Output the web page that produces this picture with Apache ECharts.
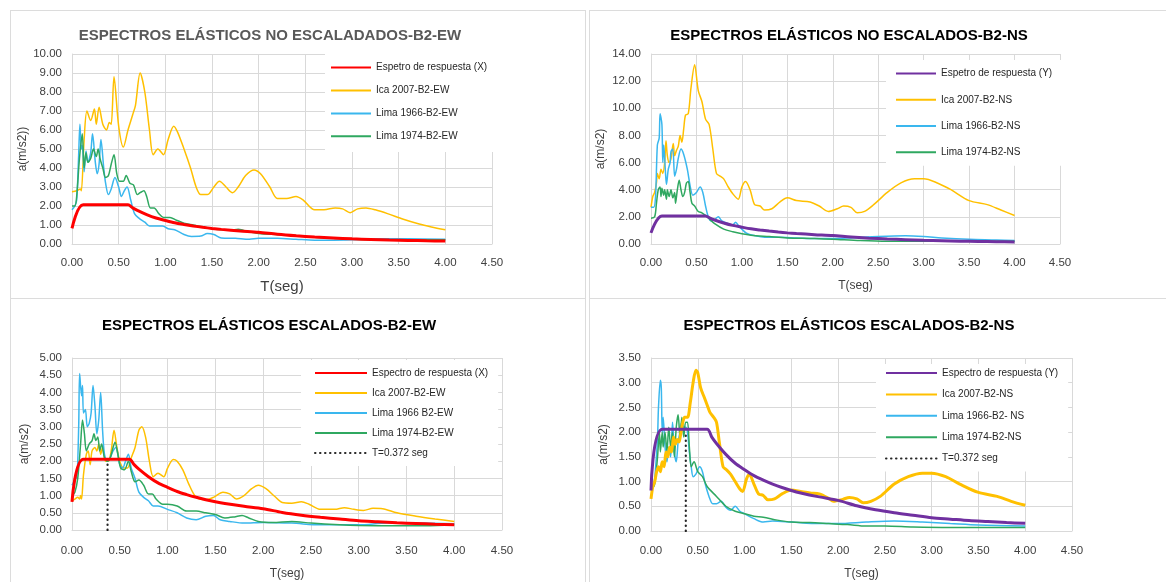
<!DOCTYPE html>
<html>
<head>
<meta charset="utf-8">
<title>Espectros elásticos B2</title>
<script src="https://cdn.jsdelivr.net/npm/echarts@6/dist/echarts.min.js"></script>
<style>
  html, body { margin: 0; padding: 0; background: #ffffff; }
  body { width: 1166px; height: 582px; position: relative; overflow: hidden; }
  .panel { position: absolute; border: 1px solid #dcdcdc; background: #ffffff; overflow: hidden; }
  .chart { position: absolute; left: 0; top: 0; }
</style>
</head>
<body>
<div class="panel" id="pTL" style="left:10px;top:10px;width:574px;height:287px;"><div class="chart" id="cTL" style="width:574px;height:287px;"></div></div>
<div class="panel" id="pTR" style="left:589px;top:10px;width:590px;height:287px;"><div class="chart" id="cTR" style="width:590px;height:287px;"></div></div>
<div class="panel" id="pBL" style="left:10px;top:298px;width:574px;height:300px;"><div class="chart" id="cBL" style="width:574px;height:300px;"></div></div>
<div class="panel" id="pBR" style="left:589px;top:298px;width:590px;height:300px;"><div class="chart" id="cBR" style="width:590px;height:300px;"></div></div>
<script>
// Period T (s) vs spectral acceleration a (m/s2)

// Design response spectrum (same ordinates for X and Y)
const espectroDiseno = [[0,0.82],[0.12,2.06],[0.6,2.06],[0.65,1.9],[0.7,1.77],[0.8,1.55],[0.9,1.37],[1.0,1.24],[1.1,1.12],[1.2,1.03],[1.3,0.95],[1.4,0.88],[1.5,0.82],[1.6,0.77],[1.8,0.69],[2.0,0.62],[2.2,0.51],[2.4,0.43],[2.6,0.37],[2.8,0.32],[3.0,0.27],[3.2,0.24],[3.4,0.21],[3.6,0.19],[3.8,0.17],[4.0,0.155]];

// Unscaled, EW
const ica2007EW = [[0,2.75],[0.05,2.8],[0.09,2.9],[0.1,2.8],[0.13,5.5],[0.16,7.0],[0.2,6.5],[0.24,7.1],[0.26,6.3],[0.29,7.2],[0.33,6.3],[0.37,6.0],[0.4,6.4],[0.42,6.3],[0.45,8.8],[0.5,6.2],[0.55,5.1],[0.6,6.0],[0.65,6.8],[0.68,7.3],[0.73,9.0],[0.78,8.0],[0.83,6.0],[0.87,4.7],[0.92,5.0],[0.98,4.7],[1.03,5.5],[1.09,6.2],[1.13,5.9],[1.2,5.0],[1.27,4.0],[1.33,3.0],[1.38,2.6],[1.45,2.6],[1.52,3.0],[1.58,3.3],[1.65,3.0],[1.72,2.7],[1.78,3.0],[1.86,3.6],[1.95,3.9],[2.02,3.7],[2.12,3.0],[2.2,2.4],[2.3,2.4],[2.4,2.5],[2.48,2.3],[2.6,1.8],[2.7,1.8],[2.82,1.9],[2.9,1.85],[2.98,1.65],[3.06,1.85],[3.15,1.9],[3.25,1.8],[3.38,1.6],[3.55,1.3],[3.72,1.05],[3.85,0.9],[4.0,0.75]];
const lima1966EW = [[0,1.8],[0.03,2.0],[0.05,2.3],[0.07,4.5],[0.085,6.3],[0.1,5.0],[0.11,5.2],[0.13,3.8],[0.15,4.9],[0.17,4.3],[0.2,4.8],[0.22,5.8],[0.25,4.3],[0.27,3.7],[0.29,4.2],[0.31,5.5],[0.34,4.0],[0.36,3.2],[0.39,2.6],[0.42,2.9],[0.46,3.5],[0.5,3.0],[0.53,2.5],[0.56,2.8],[0.59,3.0],[0.63,2.3],[0.67,1.6],[0.72,1.35],[0.78,1.15],[0.83,0.95],[0.9,0.95],[0.97,0.95],[1.03,0.8],[1.1,0.75],[1.2,0.5],[1.28,0.4],[1.38,0.42],[1.45,0.55],[1.52,0.5],[1.6,0.32],[1.75,0.3],[1.9,0.25],[2.0,0.3],[2.2,0.3],[2.4,0.25],[2.6,0.2],[2.8,0.2],[3.0,0.22],[3.3,0.28],[3.6,0.28],[4.0,0.25]];
const lima1974EW = [[0,2.0],[0.03,2.0],[0.05,2.5],[0.08,4.5],[0.11,5.8],[0.13,4.0],[0.15,4.8],[0.17,4.3],[0.2,4.5],[0.23,5.0],[0.26,4.6],[0.28,5.0],[0.3,4.5],[0.33,4.0],[0.36,3.5],[0.39,3.6],[0.42,4.2],[0.45,4.7],[0.48,3.7],[0.51,3.3],[0.55,3.3],[0.58,3.6],[0.62,3.2],[0.66,3.1],[0.7,2.6],[0.73,2.7],[0.77,2.8],[0.8,2.5],[0.84,1.9],[0.88,1.9],[0.93,1.6],[0.98,1.4],[1.05,1.4],[1.12,1.25],[1.2,1.1],[1.3,1.0],[1.4,0.9],[1.5,0.8],[1.6,0.75],[1.7,0.72],[1.78,0.78],[1.85,0.7],[2.0,0.55],[2.2,0.5],[2.4,0.45],[2.6,0.35],[2.8,0.3],[3.0,0.25],[3.3,0.22],[3.6,0.22],[4.0,0.22]];

// Unscaled, NS
const ica2007NS = [[0,2.7],[0.02,3.5],[0.04,3.8],[0.06,4.5],[0.07,5.2],[0.09,4.8],[0.11,5.5],[0.13,5.2],[0.15,6.0],[0.165,7.6],[0.18,6.5],[0.2,6.0],[0.22,6.3],[0.245,7.4],[0.26,6.5],[0.28,6.9],[0.3,7.2],[0.32,8.0],[0.34,7.5],[0.36,8.5],[0.38,9.5],[0.41,9.6],[0.44,11.5],[0.48,13.2],[0.52,11.3],[0.56,10.5],[0.6,9.2],[0.64,8.8],[0.68,7.0],[0.72,5.2],[0.76,5.0],[0.8,4.8],[0.85,4.2],[0.9,3.7],[0.96,3.3],[1.0,4.2],[1.04,4.6],[1.09,4.0],[1.14,2.9],[1.2,2.8],[1.25,2.5],[1.33,2.6],[1.42,3.1],[1.5,3.4],[1.6,3.2],[1.75,3.1],[1.85,2.8],[1.95,2.4],[2.05,2.6],[2.12,2.8],[2.2,2.7],[2.27,2.3],[2.35,2.4],[2.45,2.9],[2.6,3.8],[2.75,4.5],[2.9,4.8],[3.0,4.8],[3.15,4.5],[3.3,4.0],[3.5,3.2],[3.7,2.9],[3.85,2.5],[4.0,2.1]];
const lima1966NS = [[0,2.7],[0.03,2.7],[0.05,3.5],[0.07,7.3],[0.09,7.8],[0.1,9.6],[0.12,8.8],[0.13,6.0],[0.14,7.3],[0.16,5.2],[0.17,4.4],[0.19,5.5],[0.21,6.0],[0.22,6.8],[0.24,7.0],[0.26,5.0],[0.28,5.5],[0.3,6.3],[0.33,7.0],[0.36,6.6],[0.4,5.5],[0.43,4.3],[0.46,3.6],[0.5,3.8],[0.54,4.2],[0.57,3.8],[0.6,2.8],[0.63,2.0],[0.66,1.7],[0.7,1.8],[0.74,2.0],[0.78,1.7],[0.85,1.5],[0.9,1.4],[0.93,1.6],[0.97,1.3],[1.05,0.8],[1.15,0.6],[1.25,0.5],[1.4,0.5],[1.6,0.45],[1.8,0.4],[2.0,0.4],[2.2,0.45],[2.5,0.55],[2.8,0.6],[3.0,0.55],[3.2,0.45],[3.5,0.35],[3.8,0.3],[4.0,0.25]];
const lima1974NS = [[0,1.9],[0.04,2.0],[0.06,3.0],[0.08,4.0],[0.1,4.2],[0.11,3.5],[0.12,4.1],[0.14,3.6],[0.15,4.0],[0.17,3.3],[0.18,4.0],[0.2,3.5],[0.22,4.0],[0.24,3.4],[0.26,3.8],[0.27,3.0],[0.29,4.0],[0.31,4.7],[0.33,4.0],[0.35,3.5],[0.37,3.8],[0.39,4.5],[0.41,4.6],[0.43,3.8],[0.45,3.0],[0.48,2.8],[0.52,2.4],[0.56,2.3],[0.6,2.1],[0.65,1.8],[0.7,1.5],[0.8,1.1],[0.9,0.9],[1.0,0.75],[1.1,0.65],[1.3,0.55],[1.5,0.45],[1.8,0.4],[2.0,0.35],[2.3,0.25],[2.6,0.2],[3.0,0.2],[3.5,0.2],[4.0,0.2]];

// Scaled, EW
const ica2007EWesc = [[0,0.85],[0.03,0.9],[0.06,0.95],[0.08,0.9],[0.09,1.0],[0.1,0.9],[0.12,1.6],[0.15,2.2],[0.17,2.3],[0.19,1.9],[0.21,2.3],[0.24,2.4],[0.26,2.3],[0.28,2.5],[0.3,2.2],[0.32,2.4],[0.35,2.0],[0.38,2.0],[0.41,2.3],[0.44,2.9],[0.47,2.4],[0.5,2.0],[0.54,1.8],[0.58,1.8],[0.62,2.1],[0.66,2.4],[0.7,2.9],[0.73,3.0],[0.77,2.7],[0.81,2.0],[0.85,1.55],[0.9,1.65],[0.96,1.55],[1.0,1.8],[1.06,2.05],[1.1,2.0],[1.16,1.75],[1.22,1.35],[1.3,0.95],[1.4,0.88],[1.48,0.95],[1.58,1.1],[1.65,1.05],[1.72,0.9],[1.8,1.0],[1.88,1.2],[1.95,1.3],[2.03,1.2],[2.12,0.98],[2.2,0.8],[2.3,0.78],[2.4,0.82],[2.48,0.75],[2.6,0.6],[2.75,0.6],[2.85,0.65],[2.95,0.6],[3.05,0.57],[3.15,0.63],[3.25,0.62],[3.4,0.5],[3.6,0.4],[3.8,0.32],[4.0,0.25]];
const lima1966EWesc = [[0,1.3],[0.02,1.4],[0.04,1.6],[0.05,1.5],[0.07,3.0],[0.08,4.55],[0.1,3.9],[0.11,4.2],[0.12,3.4],[0.14,3.5],[0.16,3.0],[0.18,3.1],[0.2,3.4],[0.22,4.2],[0.24,3.6],[0.26,2.8],[0.28,3.2],[0.3,4.0],[0.32,2.9],[0.34,2.2],[0.37,2.0],[0.4,2.1],[0.43,2.3],[0.46,2.4],[0.5,1.9],[0.53,1.8],[0.56,2.0],[0.59,2.2],[0.62,1.8],[0.66,1.5],[0.7,1.1],[0.75,0.95],[0.8,0.85],[0.85,0.7],[0.9,0.7],[1.0,0.6],[1.1,0.5],[1.2,0.35],[1.3,0.3],[1.4,0.4],[1.48,0.42],[1.55,0.3],[1.65,0.25],[1.8,0.2],[2.0,0.22],[2.3,0.2],[2.6,0.15],[3.0,0.15],[3.3,0.2],[3.6,0.2],[4.0,0.18]];
const lima1974EWesc = [[0,1.0],[0.03,1.1],[0.06,1.5],[0.09,2.5],[0.11,3.2],[0.13,2.8],[0.15,2.3],[0.18,2.5],[0.21,2.6],[0.23,2.8],[0.25,2.6],[0.27,2.7],[0.29,2.3],[0.31,2.5],[0.34,2.1],[0.37,2.0],[0.4,2.1],[0.43,2.4],[0.45,2.55],[0.48,2.2],[0.51,1.8],[0.55,1.75],[0.59,2.0],[0.62,1.7],[0.66,1.4],[0.7,1.45],[0.75,1.3],[0.8,1.05],[0.84,1.05],[0.88,0.9],[0.95,0.75],[1.0,0.75],[1.1,0.7],[1.2,0.55],[1.3,0.55],[1.4,0.5],[1.5,0.45],[1.6,0.35],[1.7,0.38],[1.78,0.42],[1.85,0.35],[1.95,0.25],[2.1,0.22],[2.3,0.25],[2.5,0.2],[2.8,0.15],[3.0,0.13],[3.4,0.12],[3.7,0.12],[4.0,0.15]];

// Scaled, NS
const ica2007NSesc = [[0,0.65],[0.02,0.9],[0.04,1.0],[0.06,1.2],[0.08,1.3],[0.1,1.2],[0.12,1.4],[0.14,1.3],[0.16,1.6],[0.18,1.5],[0.2,1.7],[0.22,1.6],[0.24,1.9],[0.26,1.75],[0.28,1.85],[0.3,1.8],[0.32,2.0],[0.34,2.2],[0.36,2.3],[0.39,2.3],[0.42,2.6],[0.45,3.0],[0.48,3.25],[0.5,3.2],[0.53,2.9],[0.57,2.7],[0.6,2.55],[0.63,2.4],[0.67,2.3],[0.7,2.2],[0.73,1.8],[0.77,1.3],[0.8,1.25],[0.85,1.15],[0.9,1.0],[0.95,0.85],[0.98,0.8],[1.02,1.05],[1.05,1.15],[1.1,0.95],[1.15,0.75],[1.2,0.72],[1.25,0.63],[1.32,0.65],[1.4,0.75],[1.5,0.83],[1.6,0.8],[1.7,0.77],[1.8,0.75],[1.9,0.66],[1.95,0.6],[2.05,0.64],[2.12,0.68],[2.2,0.65],[2.27,0.57],[2.35,0.6],[2.45,0.7],[2.6,0.95],[2.75,1.1],[2.9,1.17],[3.0,1.17],[3.15,1.1],[3.3,0.95],[3.5,0.78],[3.7,0.7],[3.85,0.6],[4.0,0.52]];
const lima1966NSesc = [[0,0.9],[0.03,0.95],[0.05,1.3],[0.07,1.9],[0.08,2.5],[0.1,3.05],[0.11,2.9],[0.12,2.0],[0.13,2.3],[0.15,1.7],[0.17,1.4],[0.19,1.7],[0.21,1.5],[0.23,2.2],[0.25,1.6],[0.27,1.4],[0.29,1.8],[0.31,2.0],[0.33,2.2],[0.35,2.1],[0.37,2.1],[0.39,2.0],[0.41,1.6],[0.43,1.3],[0.45,1.1],[0.48,1.15],[0.52,1.3],[0.55,1.2],[0.58,0.95],[0.62,0.7],[0.66,0.55],[0.7,0.55],[0.75,0.6],[0.8,0.48],[0.85,0.42],[0.9,0.5],[0.95,0.4],[1.0,0.35],[1.1,0.25],[1.2,0.18],[1.3,0.2],[1.5,0.18],[1.8,0.15],[2.0,0.15],[2.3,0.18],[2.6,0.2],[2.9,0.18],[3.2,0.15],[3.5,0.12],[4.0,0.1]];
const lima1974NSesc = [[0,0.9],[0.03,0.9],[0.05,1.1],[0.07,1.5],[0.09,2.0],[0.1,1.6],[0.12,2.0],[0.13,1.7],[0.15,2.0],[0.17,1.6],[0.19,2.1],[0.21,1.7],[0.23,2.0],[0.25,1.5],[0.27,2.1],[0.29,2.35],[0.31,1.9],[0.33,2.3],[0.35,1.9],[0.37,2.2],[0.39,2.2],[0.41,1.7],[0.43,1.3],[0.46,1.4],[0.5,1.2],[0.55,1.1],[0.6,0.9],[0.7,0.7],[0.8,0.5],[0.9,0.4],[1.0,0.35],[1.1,0.3],[1.2,0.28],[1.35,0.22],[1.5,0.18],[1.7,0.17],[1.9,0.15],[2.1,0.13],[2.3,0.1],[2.5,0.1],[2.8,0.08],[3.2,0.07],[3.6,0.07],[4.0,0.07]];

// Fundamental period marker T = 0.372 s
const periodoT = [[0.372,0],[0.372,2.0]];

// Axis ticks
const xTicks = { min: 0, max: 4.5, interval: 0.5 };

const FONT = "'Liberation Sans', Arial, sans-serif";
const C_RED = '#ff0000', C_YEL = '#ffc000', C_BLUE = '#3ab7ee', C_GREEN = '#2fa860', C_PURP = '#7030a0';
const GRID_C = '#d9d9d9';

function makeChart(id, cfg) {
  const chart = echarts.init(document.getElementById(id), null, { renderer: 'canvas' });
  const series = cfg.series.map(s => ({
    name: s.name,
    type: 'line',
    data: s.data,
    showSymbol: false,
    symbol: 'none',
    smooth: s.dotted ? false : 0.3,
    z: s.z || 2,
    lineStyle: { color: s.color, width: s.width, type: s.dotted ? [0.5, 4.5] : 'solid', cap: s.dotted ? 'round' : 'butt' },
    itemStyle: { color: s.color },
    emphasis: { disabled: true },
    animation: false
  }));
  chart.setOption({
    animation: false,
    textStyle: { fontFamily: FONT },
    graphic: [{
      type: 'text', x: cfg.titleX, y: cfg.titleY,
      style: { text: cfg.title, fill: cfg.titleColor, font: 'bold 15px ' + FONT, textAlign: 'center', textVerticalAlign: 'middle' }
    }],
    grid: Object.assign({ outerBoundsMode: 'none', containLabel: false }, cfg.grid),
    legend: {
      orient: 'vertical',
      left: cfg.legend.left, top: cfg.legend.top,
      padding: cfg.legend.padding,
      itemWidth: cfg.legend.itemWidth, itemHeight: cfg.legend.itemHeight, itemGap: cfg.legend.itemGap,
      backgroundColor: '#ffffff',
      selectedMode: false,
      itemStyle: { opacity: 0 },
      textStyle: { fontFamily: FONT, fontSize: 10, color: '#262626' },
      data: cfg.series.map(s => s.name)
    },
    xAxis: {
      type: 'value', min: xTicks.min, max: xTicks.max, interval: xTicks.interval,
      name: 'T(seg)', nameLocation: 'middle', nameGap: cfg.xNameGap,
      nameTextStyle: { fontFamily: FONT, fontSize: cfg.xNameSize, color: '#404040' },
      axisLine: { show: true, lineStyle: { color: GRID_C } },
      axisTick: { show: false },
      axisLabel: { margin: cfg.xLabelMargin, fontFamily: FONT, fontSize: 11.5, color: '#404040', formatter: v => v.toFixed(2) },
      splitLine: { show: true, lineStyle: { color: GRID_C, width: 1 } }
    },
    yAxis: {
      type: 'value', min: 0, max: cfg.yMax, interval: cfg.yInterval,
      name: cfg.yName, nameLocation: 'middle', nameGap: cfg.yNameGap, nameRotate: 90,
      nameMoveOverlap: false,
      nameTextStyle: { fontFamily: FONT, fontSize: 12, color: '#404040' },
      axisLine: { show: true, lineStyle: { color: GRID_C } },
      axisTick: { show: false },
      axisLabel: { margin: 10, fontFamily: FONT, fontSize: 11.5, color: '#404040', formatter: v => v.toFixed(2) },
      splitLine: { show: true, lineStyle: { color: GRID_C, width: 1 } }
    },
    series: series
  });
  return chart;
}

makeChart('cTL', {
  title: 'ESPECTROS ELÁSTICOS NO ESCALADADOS-B2-EW', titleColor: '#595959', titleX: 259, titleY: 25,
  grid: { left: 61, top: 43, width: 420, height: 190 },
  yMax: 10, yInterval: 1, yName: 'a(m/s2))', yNameGap: 43,
  xNameGap: 35, xNameSize: 15, xLabelMargin: 13,
  legend: { left: 314, top: 41, padding: [10, 8, 10, 5], itemWidth: 40, itemHeight: 14, itemGap: 11.7 },
  series: [
    { name: 'Espetro de respuesta (X)', data: espectroDiseno, color: C_RED, width: 3, z: 5 },
    { name: 'Ica 2007-B2-EW', data: ica2007EW, color: C_YEL, width: 1.5 },
    { name: 'Lima 1966-B2-EW', data: lima1966EW, color: C_BLUE, width: 1.5 },
    { name: 'Lima 1974-B2-EW', data: lima1974EW, color: C_GREEN, width: 1.5 }
  ]
});

makeChart('cTR', {
  title: 'ESPECTROS ELÁSTICOS NO ESCALADOS-B2-NS', titleColor: '#000000', titleX: 259, titleY: 25,
  grid: { left: 61, top: 43, width: 409, height: 190 },
  yMax: 14, yInterval: 2, yName: 'a(m/s2)', yNameGap: 44,
  xNameGap: 36, xNameSize: 12, xLabelMargin: 13,
  legend: { left: 296, top: 49, padding: [8, 10, 8, 9], itemWidth: 40, itemHeight: 14, itemGap: 15 },
  series: [
    { name: 'Espetro de respuesta (Y)', data: espectroDiseno, color: C_PURP, width: 3, z: 5 },
    { name: 'Ica 2007-B2-NS', data: ica2007NS, color: C_YEL, width: 1.5 },
    { name: 'Lima 1966-B2-NS', data: lima1966NS, color: C_BLUE, width: 1.5 },
    { name: 'Lima 1974-B2-NS', data: lima1974NS, color: C_GREEN, width: 1.5 }
  ]
});

makeChart('cBL', {
  title: 'ESPECTROS ELÁSTICOS ESCALADOS-B2-EW', titleColor: '#000000', titleX: 258, titleY: 27,
  grid: { left: 61, top: 59, width: 430, height: 172 },
  yMax: 5, yInterval: 0.5, yName: 'a(m/s2)', yNameGap: 41,
  xNameGap: 38, xNameSize: 12, xLabelMargin: 15,
  legend: { left: 290, top: 61, padding: [8, 10, 8, 13], itemWidth: 52, itemHeight: 12, itemGap: 10 },
  series: [
    { name: 'Espectro de respuesta (X)', data: espectroDiseno, color: C_RED, width: 3, z: 5 },
    { name: 'Ica 2007-B2-EW', data: ica2007EWesc, color: C_YEL, width: 1.5 },
    { name: 'Lima 1966 B2-EW', data: lima1966EWesc, color: C_BLUE, width: 1.5 },
    { name: 'Lima 1974-B2-EW', data: lima1974EWesc, color: C_GREEN, width: 1.5 },
    { name: 'T=0.372 seg', data: periodoT, color: '#262626', width: 2.2, dotted: true, z: 6 }
  ]
});

makeChart('cBR', {
  title: 'ESPECTROS ELÁSTICOS ESCALADOS-B2-NS', titleColor: '#000000', titleX: 259, titleY: 27,
  grid: { left: 61, top: 59, width: 421, height: 173 },
  yMax: 3.5, yInterval: 0.5, yName: 'a(m/s2)', yNameGap: 41,
  xNameGap: 37, xNameSize: 12, xLabelMargin: 14,
  legend: { left: 286, top: 65, padding: [4, 10, 8, 9], itemWidth: 51, itemHeight: 12, itemGap: 11.4 },
  series: [
    { name: 'Espectro de respuesta (Y)', data: espectroDiseno, color: C_PURP, width: 3, z: 5 },
    { name: 'Ica 2007-B2-NS', data: ica2007NSesc, color: C_YEL, width: 3, z: 4 },
    { name: 'Lima 1966-B2- NS', data: lima1966NSesc, color: C_BLUE, width: 1.5 },
    { name: 'Lima 1974-B2-NS', data: lima1974NSesc, color: C_GREEN, width: 1.5 },
    { name: 'T=0.372 seg', data: periodoT, color: '#262626', width: 2.2, dotted: true, z: 6 }
  ]
});
</script>
</body>
</html>
